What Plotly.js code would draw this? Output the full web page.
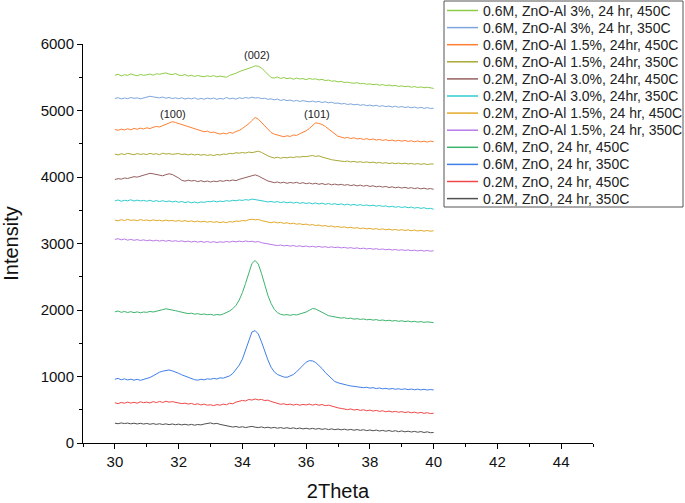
<!DOCTYPE html>
<html>
<head>
<meta charset="utf-8">
<script src="https://cdn.plot.ly/plotly-3.0.1.min.js"></script>
<style>html,body{margin:0;padding:0;background:#fff;}#chart{width:685px;height:503px;}</style>
</head>
<body>
<div id="chart"></div>
<script>
const twoTheta = [30.0,30.1,30.2,30.3,30.4,30.5,30.6,30.7,30.8,30.9,
31.0,31.1,31.2,31.3,31.4,31.5,31.6,31.7,31.8,31.9,
32.0,32.1,32.2,32.3,32.4,32.5,32.6,32.7,32.8,32.9,
33.0,33.1,33.2,33.3,33.4,33.5,33.6,33.7,33.8,33.9,
34.0,34.1,34.2,34.3,34.4,34.5,34.6,34.7,34.8,34.9,
35.0,35.1,35.2,35.3,35.4,35.5,35.6,35.7,35.8,35.9,
36.0,36.1,36.2,36.3,36.4,36.5,36.6,36.7,36.8,36.9,
37.0,37.1,37.2,37.3,37.4,37.5,37.6,37.7,37.8,37.9,
38.0,38.1,38.2,38.3,38.4,38.5,38.6,38.7,38.8,38.9,
39.0,39.1,39.2,39.3,39.4,39.5,39.6,39.7,39.8,39.9,
40.0];

const m06_al3_450 = [5530,5545,5520,5538,5528,5550,5535,5522,5541,5530,
5536,5548,5530,5552,5545,5560,5566,5548,5540,5555,
5532,5525,5540,5518,5530,5512,5526,5515,5508,5522,
5510,5525,5505,5518,5512,5500,5528,5540,5560,5585,
5600,5615,5630,5650,5672,5665,5640,5590,5530,5495,
5488,5505,5482,5496,5478,5490,5470,5488,5474,5480,
5465,5482,5470,5476,5460,5468,5450,5458,5440,5446,
5430,5438,5420,5426,5415,5410,5418,5402,5408,5395,
5400,5388,5396,5380,5390,5375,5384,5370,5378,5362,
5370,5358,5366,5350,5360,5346,5355,5342,5350,5338,
5332];

const m06_al3_350 = [5180,5192,5175,5188,5178,5195,5183,5190,5176,5192,
5200,5214,5205,5198,5190,5202,5185,5196,5180,5190,
5178,5192,5172,5186,5175,5190,5168,5182,5170,5186,
5175,5188,5168,5182,5172,5196,5175,5186,5170,5192,
5180,5195,5185,5200,5188,5194,5178,5185,5168,5175,
5160,5172,5150,5165,5148,5158,5140,5152,5136,5148,
5138,5130,5142,5128,5136,5120,5132,5115,5124,5108,
5112,5098,5106,5090,5100,5085,5094,5078,5088,5072,
5082,5068,5078,5062,5072,5058,5068,5052,5064,5048,
5060,5045,5055,5040,5052,5036,5048,5032,5044,5030,
5035];

const m06_al15_450 = [4715,4702,4720,4708,4725,4710,4730,4718,4735,4722,
4740,4728,4748,4760,4752,4775,4790,4810,4832,4820,
4805,4790,4770,4752,4735,4720,4705,4695,4680,4690,
4668,4675,4655,4645,4660,4648,4670,4658,4685,4700,
4730,4760,4800,4850,4895,4870,4820,4760,4710,4670,
4645,4630,4615,4605,4620,4610,4632,4625,4650,4668,
4695,4730,4775,4815,4805,4790,4760,4720,4680,4640,
4612,4600,4585,4595,4578,4590,4572,4580,4565,4576,
4560,4572,4555,4566,4550,4562,4545,4556,4540,4552,
4538,4550,4535,4545,4530,4542,4528,4538,4525,4540,
4530];

const m06_al15_350 = [4345,4332,4350,4338,4356,4342,4335,4352,4340,4348,
4338,4355,4342,4350,4336,4358,4345,4352,4340,4348,
4352,4338,4346,4332,4345,4330,4342,4328,4338,4325,
4335,4322,4338,4330,4345,4340,4356,4350,4365,4358,
4368,4360,4375,4366,4382,4388,4370,4340,4318,4300,
4285,4298,4282,4295,4288,4300,4292,4305,4298,4310,
4305,4316,4322,4310,4318,4300,4285,4272,4260,4252,
4245,4238,4232,4240,4226,4235,4222,4230,4218,4228,
4215,4225,4210,4220,4206,4216,4202,4212,4200,4210,
4198,4208,4195,4205,4192,4202,4190,4200,4188,4196,
4195];

const m02_al3_450 = [3962,3975,3968,3985,3978,3995,4005,3998,4015,4030,
4042,4055,4048,4040,4028,4018,4035,4048,4038,4015,
3985,3950,3938,3952,3940,3948,3930,3945,3928,3940,
3925,3938,3930,3945,3935,3950,3942,3955,3945,3965,
3978,3990,4005,4025,4032,4015,3990,3960,3940,3928,
3915,3925,3910,3922,3905,3918,3908,3920,3902,3915,
3898,3910,3895,3906,3890,3902,3886,3898,3882,3894,
3880,3890,3876,3886,3870,3882,3866,3878,3862,3874,
3858,3868,3852,3862,3848,3858,3842,3852,3838,3848,
3834,3845,3830,3840,3825,3836,3822,3832,3818,3826,
3815];

const m02_al3_350 = [3640,3655,3635,3650,3642,3658,3638,3652,3640,3648,
3636,3650,3632,3645,3630,3644,3628,3640,3625,3636,
3620,3632,3615,3628,3612,3624,3610,3625,3618,3632,
3628,3640,3625,3638,3630,3645,3636,3650,3642,3655,
3648,3660,3652,3668,3660,3655,3642,3635,3625,3632,
3620,3630,3615,3626,3612,3622,3608,3620,3605,3615,
3602,3612,3598,3610,3594,3608,3590,3602,3588,3598,
3585,3596,3580,3592,3576,3588,3574,3584,3570,3580,
3566,3576,3562,3572,3558,3566,3550,3560,3545,3555,
3542,3552,3538,3548,3532,3542,3528,3538,3522,3530,
3515];

const m02_al15_450 = [3352,3340,3358,3345,3362,3348,3355,3342,3360,3346,
3354,3340,3356,3344,3350,3338,3352,3340,3348,3335,
3346,3332,3344,3330,3340,3326,3338,3324,3335,3320,
3332,3318,3328,3314,3326,3312,3330,3322,3338,3332,
3345,3340,3358,3365,3355,3362,3345,3335,3320,3312,
3325,3310,3318,3302,3312,3296,3305,3290,3298,3284,
3292,3276,3285,3270,3278,3262,3270,3255,3264,3248,
3256,3242,3250,3236,3244,3230,3238,3224,3232,3220,
3228,3214,3224,3210,3220,3206,3216,3202,3212,3198,
3208,3196,3205,3192,3202,3188,3198,3186,3196,3184,
3192];

const m02_al15_350 = [3062,3072,3055,3068,3050,3062,3048,3058,3045,3055,
3042,3052,3038,3050,3036,3048,3034,3046,3032,3042,
3030,3040,3026,3036,3022,3034,3020,3032,3018,3030,
3016,3028,3014,3026,3018,3030,3020,3034,3024,3036,
3026,3038,3028,3034,3022,3030,3012,3004,2992,2985,
2975,2968,2978,2964,2972,2960,2970,2956,2966,2952,
2962,2950,2958,2946,2956,2944,2952,2940,2950,2938,
2946,2934,2942,2930,2938,2926,2934,2922,2930,2918,
2926,2914,2922,2910,2918,2906,2914,2902,2910,2898,
2906,2896,2904,2892,2900,2888,2898,2886,2896,2884,
2892];

const m06_zno_450 = [1972,1985,1965,1978,1962,1975,1960,1972,1958,1970,
1965,1978,1970,1985,1992,2005,2018,2012,2000,1990,
1978,1965,1958,1945,1952,1938,1945,1932,1940,1928,
1935,1922,1932,1925,1940,1958,1985,2020,2070,2150,
2260,2400,2570,2700,2745,2690,2550,2380,2220,2100,
2010,1960,1935,1925,1930,1920,1932,1925,1938,1950,
1970,1995,2022,2015,1990,1960,1935,1915,1905,1895,
1888,1878,1885,1870,1878,1862,1870,1858,1866,1852,
1860,1848,1856,1842,1850,1838,1846,1834,1842,1830,
1838,1826,1834,1822,1830,1818,1826,1814,1822,1812,
1810];

const m06_zno_350 = [958,972,950,965,948,960,945,958,942,955,
962,985,1010,1040,1065,1080,1092,1098,1085,1070,
1048,1025,1005,985,968,952,945,958,950,965,
958,972,962,980,975,990,1010,1045,1100,1170,
1260,1400,1560,1670,1690,1640,1520,1380,1250,1140,
1070,1030,1005,992,988,1005,1030,1070,1120,1175,
1215,1238,1235,1210,1170,1120,1060,1010,965,925,
905,890,875,868,858,852,845,840,832,838,
825,832,818,828,815,822,810,820,808,816,
805,815,802,812,800,810,798,808,796,805,
797];

const m02_zno_450 = [605,592,610,598,615,600,612,598,620,606,
615,602,622,608,625,610,628,614,622,610,
605,592,600,585,595,578,590,572,585,568,
575,562,578,568,585,575,598,590,615,625,
640,632,655,645,662,648,655,638,645,625,
612,595,582,590,575,585,570,582,568,580,
572,585,570,582,568,578,562,570,552,545,
528,520,510,502,512,495,505,490,500,485,
495,480,490,475,485,470,480,466,476,462,
472,458,468,454,464,450,460,446,456,442,
448];

const m02_zno_350 = [298,290,302,292,300,288,298,286,296,285,
294,282,292,280,290,278,288,276,286,275,
284,272,282,270,280,268,278,272,285,292,
302,288,295,280,270,258,252,240,248,235,
245,232,242,250,238,232,242,228,238,225,
235,222,232,220,230,218,228,215,225,212,
222,210,220,208,218,205,215,202,212,200,
210,198,208,195,205,192,202,190,200,186,
196,184,194,180,190,177,188,174,185,170,
182,168,178,165,175,162,172,158,168,155,
158];

const seriesNames = [
  "0.6M, ZnO-Al 3%, 24 hr, 450C",
  "0.6M, ZnO-Al 3%, 24 hr, 350C",
  "0.6M, ZnO-Al 1.5%, 24hr, 450C",
  "0.6M, ZnO-Al 1.5%, 24hr, 350C",
  "0.2M, ZnO-Al 3.0%, 24hr, 450C",
  "0.2M, ZnO-Al 3.0%, 24hr, 350C",
  "0.2M, ZnO-Al 1.5%, 24 hr, 450C",
  "0.2M, ZnO-Al 1.5%, 24 hr, 350C",
  "0.6M, ZnO, 24 hr, 450C",
  "0.6M, ZnO, 24 hr, 350C",
  "0.2M, ZnO, 24 hr, 450C",
  "0.2M, ZnO, 24 hr, 350C"
];
const seriesValues = [m06_al3_450, m06_al3_350, m06_al15_450, m06_al15_350,
  m02_al3_450, m02_al3_350, m02_al15_450, m02_al15_350,
  m06_zno_450, m06_zno_350, m02_zno_450, m02_zno_350];
const seriesColors = ["#8fcc45","#7ea6dc","#ff7f33","#a9a935","#94605e","#30cccc",
  "#e2a92a","#b87ae8","#3cb46e","#3f80e8","#f04848","#505050"];

const peakLabels = ["(002)","(100)","(101)"];
const peakX = [34.45, 31.82, 36.34];
const peakY = [5840, 4950, 4950];

const traces = seriesNames.map((n, i) => ({
  type: "scatter", mode: "lines", name: n,
  x: twoTheta, y: seriesValues[i],
  line: {color: seriesColors[i], width: 1}
}));

// plot area in pixels: left 83, right 593, top 44, bottom 443
const PL = 83, PW = 510, PB = 443, PH = 399;
const px2x = p => (p - PL) / PW;
const px2y = p => (PB - p) / PH;

const font = "Liberation Sans, Arial, sans-serif";

// hand-built legend box (row pitch 17px, as in the reference)
const legendShapes = [{
  type: "rect", xref: "paper", yref: "paper", layer: "above",
  x0: px2x(444), x1: px2x(683), y0: px2y(207), y1: px2y(1),
  line: {color: "#555", width: 1}, fillcolor: "#fff"
}];
const legendTexts = [];
seriesNames.forEach((n, i) => {
  const rowY = 10.5 + 17.1 * i;
  legendShapes.push({
    type: "line", xref: "paper", yref: "paper", layer: "above",
    x0: px2x(447), x1: px2x(478), y0: px2y(rowY), y1: px2y(rowY),
    line: {color: seriesColors[i], width: 1.5}
  });
  legendTexts.push({
    xref: "paper", yref: "paper", x: px2x(481), y: px2y(rowY),
    xanchor: "left", yanchor: "middle", showarrow: false, text: n,
    font: {family: font, size: 14, color: "#222"}
  });
});

const layout = {
  width: 685, height: 503,
  margin: {l: 83, r: 92, t: 44, b: 60},
  paper_bgcolor: "#fff", plot_bgcolor: "#fff",
  font: {family: font, color: "#000"},
  showlegend: false,
  xaxis: {
    range: [29, 45], showgrid: false, zeroline: false,
    showline: true, linecolor: "#000", linewidth: 1,
    ticks: "outside", ticklen: 5, tickcolor: "#000", tickwidth: 1,
    tick0: 30, dtick: 2,
    minor: {dtick: 1, ticks: "outside", ticklen: 3, tickcolor: "#000"},
    tickfont: {family: font, size: 15, color: "#111"},
    title: {text: "2Theta", font: {family: font, size: 20, color: "#111"}, standoff: 14},
    automargin: false
  },
  yaxis: {
    range: [0, 6000], showgrid: false, zeroline: false,
    showline: true, linecolor: "#000", linewidth: 1,
    ticks: "outside", ticklen: 5, tickcolor: "#000", tickwidth: 1,
    dtick: 1000,
    minor: {dtick: 500, ticks: "outside", ticklen: 3, tickcolor: "#000"},
    tickfont: {family: font, size: 15, color: "#111"},
    title: {text: "Intensity", font: {family: font, size: 20, color: "#111"}, standoff: 16},
    automargin: false
  },
  shapes: legendShapes,
  annotations: peakLabels.map((t, i) => ({
    x: peakX[i], y: peakY[i], xref: "x", yref: "y", text: t, showarrow: false,
    font: {family: font, size: 11, color: "#222"}
  })).concat(legendTexts)
};

Plotly.newPlot("chart", traces, layout, {displayModeBar: false, staticPlot: true});
</script>
</body>
</html>
